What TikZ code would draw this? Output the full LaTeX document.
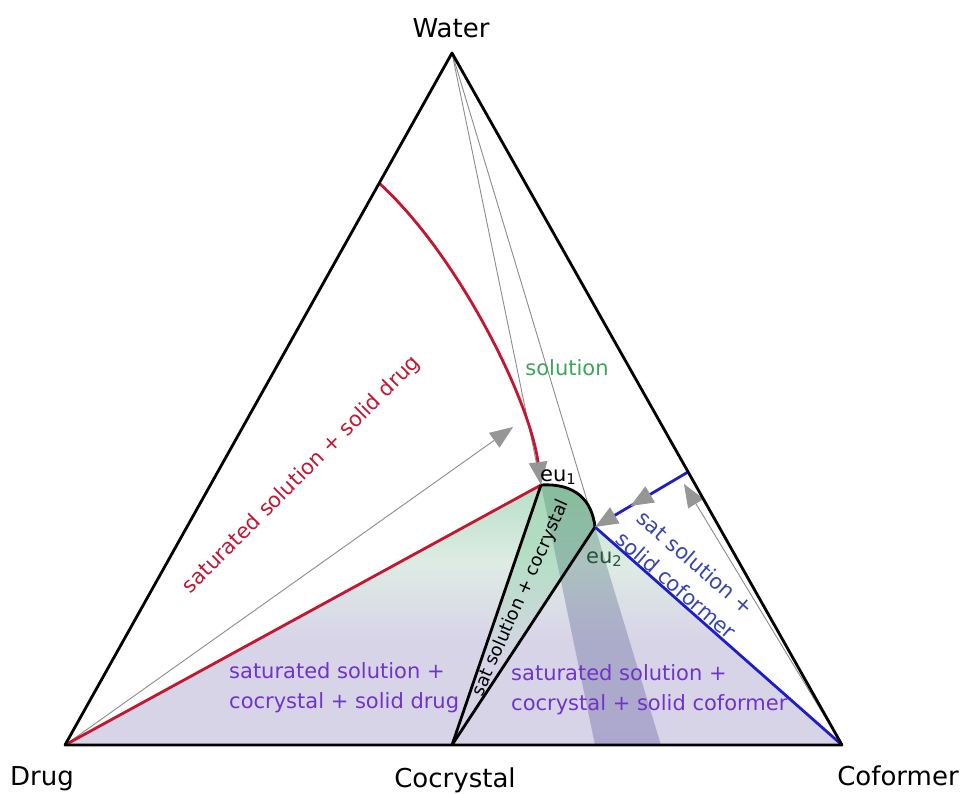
\documentclass[tikz,border=0pt]{standalone}
\usepackage{fontspec}
\setmainfont{DejaVu Sans}
\usetikzlibrary{arrows.meta,decorations.markings}
\definecolor{lav}{RGB}{216,212,232}
\definecolor{pgrn}{RGB}{222,236,228}
\definecolor{grn}{RGB}{182,222,198}
\definecolor{grn2}{RGB}{168,216,184}
\definecolor{strc}{RGB}{105,95,165}
\definecolor{strg}{RGB}{80,150,110}
\definecolor{redc}{RGB}{196,22,48}
\definecolor{bluec}{RGB}{30,30,200}
\definecolor{bluet}{RGB}{55,70,175}
\definecolor{purp}{RGB}{112,52,200}
\definecolor{greent}{RGB}{60,165,90}
\definecolor{arrg}{RGB}{150,150,150}
\definecolor{guideg}{RGB}{140,140,140}
\definecolor{eugrn}{RGB}{35,85,55}
\pgfdeclareverticalshading{phase}{100bp}{color(0bp)=(lav); color(25bp)=(lav); color(45bp)=(lav); color(60bp)=(pgrn); color(75bp)=(grn); color(100bp)=(grn)}
\pgfdeclareverticalshading{tieg}{100bp}{color(0bp)=(lav); color(25bp)=(lav); color(40bp)=(lav); color(60bp)=(grn); color(75bp)=(grn2); color(100bp)=(grn2)}
\pgfdeclareverticalshading{stripe}{100bp}{color(0bp)=(strc); color(25bp)=(strc); color(50bp)=(strc!70!strg); color(75bp)=(strg); color(100bp)=(strg)}
\begin{document}
\begin{tikzpicture}[x=1pt,y=-1pt,
  edge/.style={line width=2.8pt, line join=round},
  guide/.style={draw=guideg, line width=0.9pt},
  tipg/.style={-{Triangle[length=23pt,width=18pt,color=arrg]}},
  lbl/.style={font=\fontsize{26}{30}\selectfont},
  reg/.style={font=\fontsize{21}{30}\selectfont},
  midarrow/.style={postaction={decorate}, decoration={markings,
     mark=at position 0.62 with {\arrow{Triangle[length=23pt,width=18pt,color=arrg]}}}}]
\useasboundingbox (0,0) rectangle (964,794);
\fill[white] (0,0) rectangle (964,794);
% key points
\coordinate (W) at (452,53);
\coordinate (D) at (65,745);
\coordinate (C) at (842,745);
\coordinate (X) at (452,745);
\coordinate (E1) at (541,485);
\coordinate (E2) at (595,527);
\coordinate (R0) at (379,183);
\coordinate (B0) at (688,472);
\coordinate (A1) at (513,427);
\coordinate (A2) at (684,484);
\coordinate (S1) at (595,745);
\coordinate (S2) at (661,745);
% phase region fills
\shade[shading=phase] (D) -- (E1) .. controls (575,483) and (592,500) .. (E2) -- (C) -- cycle;
\shade[shading=tieg] (X) -- (E1) .. controls (575,483) and (592,500) .. (E2) -- cycle;
\shade[shading=stripe, opacity=0.38] (E1) .. controls (575,483) and (592,500) .. (E2) -- (S2) -- (S1) -- cycle;
% guide lines
\draw[guide] (W) -- (E1);
\draw[guide] (W) -- (E2);
\draw[guide, tipg] (D) -- (A1);
\draw[guide, tipg] (C) -- (A2);
% boundaries
\draw[edge, redc] (D) -- (E1);
\draw[edge] (X) -- (E1);
\draw[edge] (X) -- (E2);
\draw[edge] (E1) .. controls (575,483) and (592,500) .. (E2);
\draw[edge, bluec] (E2) -- (C);
\draw[edge, redc, tipg] (R0) .. controls (458,255) and (530,400) .. (E1);
\draw[edge, bluec, tipg, midarrow] (B0) -- (E2);
\draw[edge] (D) -- (W) -- (C) -- cycle;
% labels
\node[lbl, anchor=base] (tW) at (451,38) {Water};
\node[lbl, anchor=base] (tD) at (42,785) {Drug};
\node[lbl, anchor=base] (tX) at (455,787) {Cocrystal};
\node[lbl, anchor=base] (tC) at (898,785) {Coformer};
\node[reg, text=greent] (tS) at (567,368) {solution};
\node[reg, text=redc, rotate=45, anchor=base] (tR) at (306,479) {saturated solution + solid drug};
\node[font=\fontsize{18}{22}\selectfont, rotate=66] (tT) at (521,598) {sat solution + cocrystal};
\node[font=\fontsize{21}{24}\selectfont, anchor=base west, inner sep=0pt] (tE1) at (540,481) {eu\textsubscript{1}};
\node[font=\fontsize{21}{24}\selectfont, anchor=base west, inner sep=0pt, text=eugrn] (tE2) at (586,563) {eu\textsubscript{2}};
\node[reg, text=bluet, rotate=-41, align=center] (tB) at (686,574) {sat solution +\\solid coformer};
\node[reg, text=purp, align=left, anchor=west, inner sep=0pt] (tP1) at (229,688) {saturated solution +\\cocrystal + solid drug};
\node[reg, text=purp, align=left, anchor=west, inner sep=0pt] (tP2) at (511,690) {saturated solution +\\cocrystal + solid coformer};
\end{tikzpicture}
\end{document}
